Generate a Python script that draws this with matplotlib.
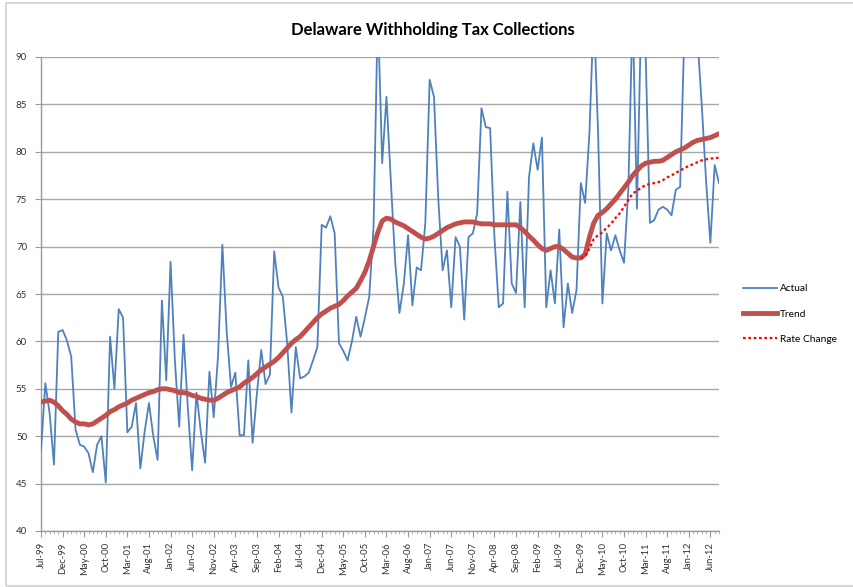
import numpy as np
import matplotlib
matplotlib.use("Agg")
import matplotlib.pyplot as plt
from matplotlib.patches import Rectangle

# Data (monthly, Jul-99 .. Aug-12)
actual = [48.5, 55.6, 52.4, 47.0, 61.0, 61.2, 60.1, 58.4, 50.7, 49.1,
          48.9, 48.2, 46.2, 49.1, 50.0, 45.1, 60.5, 55.0, 63.4, 62.5,
          50.4, 51.0, 53.5, 46.6, 50.5, 53.5, 50.0, 47.5, 64.3, 55.9,
          68.4, 58.0, 51.0, 60.7, 53.0, 46.4, 54.6, 50.5, 47.2, 56.8,
          52.0, 58.5, 70.2, 61.0, 55.2, 56.7, 50.1, 50.1, 58.0, 49.3,
          54.5, 59.1, 55.5, 56.5, 69.5, 65.7, 64.7, 59.8, 52.5, 59.4,
          56.1, 56.3, 56.7, 58.0, 59.4, 72.3, 72.0, 73.2, 71.4, 59.8,
          59.0, 58.0, 60.0, 62.6, 60.5, 62.5, 64.7, 72.0, 95.0, 78.8,
          85.8, 77.0, 68.5, 63.0, 66.0, 71.2, 63.8, 67.8, 67.5, 72.5,
          87.6, 85.8, 75.0, 67.5, 69.6, 63.6, 71.0, 70.0, 62.3, 71.0,
          71.4, 73.5, 84.6, 82.6, 82.5, 71.0, 63.6, 64.0, 75.8, 66.1,
          65.1, 74.7, 63.6, 77.3, 80.9, 78.1, 81.5, 63.6, 67.5, 64.0,
          71.8, 61.5, 66.1, 63.0, 65.4, 76.7, 74.6, 82.0, 95.0, 82.0,
          64.0, 71.4, 69.6, 71.2, 69.6, 68.3, 76.0, 95.0, 74.0, 95.0,
          90.5, 72.5, 72.8, 73.9, 74.2, 73.9, 73.3, 76.0, 76.3, 93.0,
          95.0, 95.0, 92.0, 85.0, 77.0, 70.4, 78.6, 76.7]

trend = [53.6, 53.7, 53.8, 53.6, 53.2, 52.7, 52.3, 51.8, 51.5, 51.3,
         51.3, 51.2, 51.3, 51.6, 51.9, 52.2, 52.6, 52.8, 53.1, 53.3,
         53.5, 53.8, 54.0, 54.2, 54.4, 54.6, 54.7, 54.9, 55.0, 55.0,
         54.9, 54.8, 54.6, 54.6, 54.5, 54.3, 54.2, 54.0, 53.9, 53.8,
         53.8, 54.0, 54.3, 54.6, 54.8, 55.0, 55.2, 55.6, 55.9, 56.2,
         56.6, 57.0, 57.3, 57.6, 57.9, 58.3, 58.8, 59.3, 59.8, 60.2,
         60.5, 61.0, 61.5, 62.0, 62.5, 62.9, 63.2, 63.5, 63.7, 63.9,
         64.3, 64.8, 65.2, 65.6, 66.4, 67.3, 68.5, 70.0, 71.5, 72.7,
         73.0, 72.9, 72.6, 72.4, 72.2, 71.9, 71.6, 71.3, 71.0, 70.8,
         70.9, 71.1, 71.4, 71.7, 72.0, 72.2, 72.4, 72.5, 72.6, 72.6,
         72.6, 72.5, 72.4, 72.4, 72.4, 72.3, 72.3, 72.3, 72.3, 72.3,
         72.3, 72.0, 71.6, 71.1, 70.7, 70.2, 69.8, 69.6, 69.8, 70.0,
         70.0, 69.7, 69.3, 68.9, 68.8, 68.8, 69.2, 71.0, 72.5, 73.3,
         73.6, 74.0, 74.5, 75.0, 75.6, 76.2, 76.8, 77.5, 78.0, 78.5,
         78.8, 78.9, 79.0, 79.0, 79.1, 79.4, 79.7, 80.0, 80.2, 80.4,
         80.7, 81.0, 81.2, 81.3, 81.4, 81.5, 81.7, 81.9]

rate_change = [None] * 125 + [
    68.8, 69.0, 69.8, 70.8, 71.2, 71.5, 72.0, 72.4, 73.0, 73.5,
    74.2, 74.9, 75.6, 75.9, 76.2, 76.5, 76.6, 76.7, 76.8, 77.0,
    77.3, 77.5, 77.8, 78.0, 78.3, 78.5, 78.7, 78.9, 79.1, 79.2,
    79.3, 79.3, 79.4]

tick_labels = ["Jul-99", "Dec-99", "May-00", "Oct-00", "Mar-01", "Aug-01",
               "Jan-02", "Jun-02", "Nov-02", "Apr-03", "Sep-03", "Feb-04",
               "Jul-04", "Dec-04", "May-05", "Oct-05", "Mar-06", "Aug-06",
               "Jan-07", "Jun-07", "Nov-07", "Apr-08", "Sep-08", "Feb-09",
               "Jul-09", "Dec-09", "May-10", "Oct-10", "Mar-11", "Aug-11",
               "Jan-12", "Jun-12"]

x = np.arange(len(actual))
rate_change = np.array(rate_change, dtype=float)

plt.rcParams['font.family'] = ['Lato', 'DejaVu Sans']

fig = plt.figure(figsize=(8.54, 5.87), dpi=100)
ax = fig.add_axes([41 / 854, 1 - 531 / 587, (719 - 41) / 854, (531 - 57) / 587])

# chart area border
fig.patches.append(Rectangle((6 / 854, 1 / 587), 1.2, 583 / 587, transform=fig.transFigure,
                             fill=False, edgecolor='#d0d0d0', linewidth=1.2, zorder=0))

ax.plot(x, actual, color='#4F81BD', linewidth=1.3, label='Actual', zorder=3)
ax.plot(x, trend, color='#C0504D', linewidth=3.5, label='Trend', zorder=4)
ax.plot(x, rate_change, color='#FF0000', linewidth=1.6, linestyle=(0, (1.2, 1.2)),
        label='Rate Change', zorder=5)

ax.set_ylim(40, 90)
ax.set_xlim(0, len(actual) - 1)
ax.set_yticks(np.arange(40, 91, 5))
ax.set_xticks(np.arange(0, len(actual), 5))
ax.set_xticks(np.arange(0, len(actual)), minor=True)
ax.set_xticklabels(tick_labels, rotation=90, fontsize=6.8, color='#333333')
ax.tick_params(axis='y', labelsize=7, colors='#333333', length=4, width=0.8, color='#9a9a9a', pad=6)
ax.tick_params(axis='x', which='major', length=4, width=0.8, color='#9a9a9a', pad=4)
ax.tick_params(axis='x', which='minor', length=2, width=0.6, color='#b0b0b0')

ax.grid(axis='y', color='#a8a8a8', linewidth=1.0)
ax.set_axisbelow(True)
for side in ['top', 'right']:
    ax.spines[side].set_visible(False)
for side in ['left', 'bottom']:
    ax.spines[side].set_color('#9a9a9a')
    ax.spines[side].set_linewidth(1.0)

fig.text(433 / 854, 1 - 30 / 587, 'Delaware Withholding Tax Collections',
         ha='center', va='center', fontsize=12, fontweight='bold')

leg = fig.legend(loc='center left', bbox_to_anchor=(743 / 854, 1 - 314 / 587),
                 frameon=False, fontsize=7.3, handlelength=3.4, handletextpad=0.25,
                 labelspacing=1.6, borderpad=0, borderaxespad=0)

fig.savefig('out.png', dpi=100)
